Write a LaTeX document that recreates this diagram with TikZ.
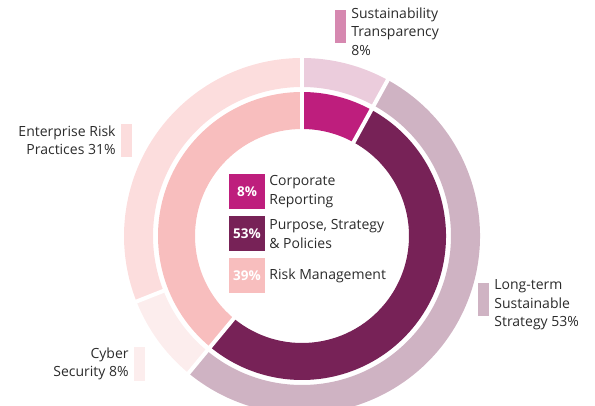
\documentclass[tikz,border=0pt]{standalone}
\usepackage{fontspec}
\setmainfont{Open Sans}
\usetikzlibrary{positioning}
\definecolor{corpreport}{HTML}{BE1E7D}
\definecolor{purposestrat}{HTML}{772257}
\definecolor{riskmgmt}{HTML}{F8BEBE}
\definecolor{transpring}{HTML}{EBCCDC}
\definecolor{transpbar}{HTML}{D688B0}
\definecolor{longterm}{HTML}{CFB3C3}
\definecolor{cybersec}{HTML}{FCEDED}
\definecolor{enterprise}{HTML}{FCDDDD}
\definecolor{labelgrey}{HTML}{2B2B2B}
\newcommand{\donutslice}[5]{\fill[#1] (#2:#5pt) arc[start angle=#2, end angle=#3, radius=#5pt] -- (#3:#4pt) arc[start angle=#3, end angle=#2, radius=#4pt] -- cycle;}

\begin{document}
\begin{tikzpicture}[
        x=1pt, y=1pt,
        node distance=4pt,
        swatch/.style={minimum width=36pt, minimum height=35pt, inner sep=0pt, text=white, font=\fontsize{13.5}{15}\selectfont\bfseries},
        bar/.style={minimum width=11pt, minimum height=33pt, inner sep=0pt},
        label text/.style={inner sep=0pt, text=labelgrey, font=\fontsize{14}{18.5}\selectfont},
        gap/.style={white, line width=4pt}]
        \useasboundingbox (0,0) rectangle (595,-406);
        % Rings
        \begin{scope}[shift={(302,-236)}]
        \donutslice{corpreport}{90}{61.2}{107}{144}
        \donutslice{purposestrat}{61.2}{-129.6}{107}{144}
        \donutslice{riskmgmt}{-129.6}{-270}{107}{144}
        \donutslice{transpring}{90}{61.2}{149}{178}
        \donutslice{longterm}{61.2}{-129.6}{149}{178}
        \donutslice{cybersec}{-129.6}{-158.4}{149}{178}
        \donutslice{enterprise}{-158.4}{-270}{149}{178}
        \coordinate (mid) at (0,0);
        \foreach \a in {90, 61.2, -129.6}
            \draw[gap] (mid) -- (\a:190pt);
        \draw[gap] (-158.4:146pt) -- (-158.4:190pt);
        \end{scope}
        % Legend
        \node[swatch, fill=corpreport] (corp_box) at (247,-191.5) {8\%};
        \node[swatch, fill=purposestrat] (purpose_box) at (247,-234) {53\%};
        \node[swatch, fill=riskmgmt] (risk_box) at (247,-275.5) {39\%};
        \node[label text, right=of corp_box, align=left] (corp_text) {Corporate\\Reporting};
        \node[label text, right=of purpose_box, align=left] (purpose_text) {Purpose, Strategy\\\& Policies};
        \node[label text, right=of risk_box] (risk_text) {Risk Management};
        % Outer labels
        \node[bar, fill=transpbar] (transp_bar) at (340.5,-27) {};
        \node[bar, fill=enterprise] (enterprise_bar) at (126.5,-140.5) {};
        \node[bar, fill=cybersec] (cyber_bar) at (139.5,-364) {};
        \node[bar, fill=longterm] (longterm_bar) at (483.5,-299.5) {};
        \node[label text, right=5pt of transp_bar.north east, anchor=north west, align=left, yshift=3pt] (transp_text) {Sustainability\\Transparency\\8\%};
        \node[label text, left=5pt of enterprise_bar, align=right] (enterprise_text) {Enterprise Risk\\Practices 31\%};
        \node[label text, left=5pt of cyber_bar, align=right] (cyber_text) {Cyber\\Security 8\%};
        \node[label text, right=5pt of longterm_bar.north east, anchor=north west, align=left, yshift=3pt] (longterm_text) {Long-term\\Sustainable\\Strategy 53\%};
\end{tikzpicture}
\end{document}
